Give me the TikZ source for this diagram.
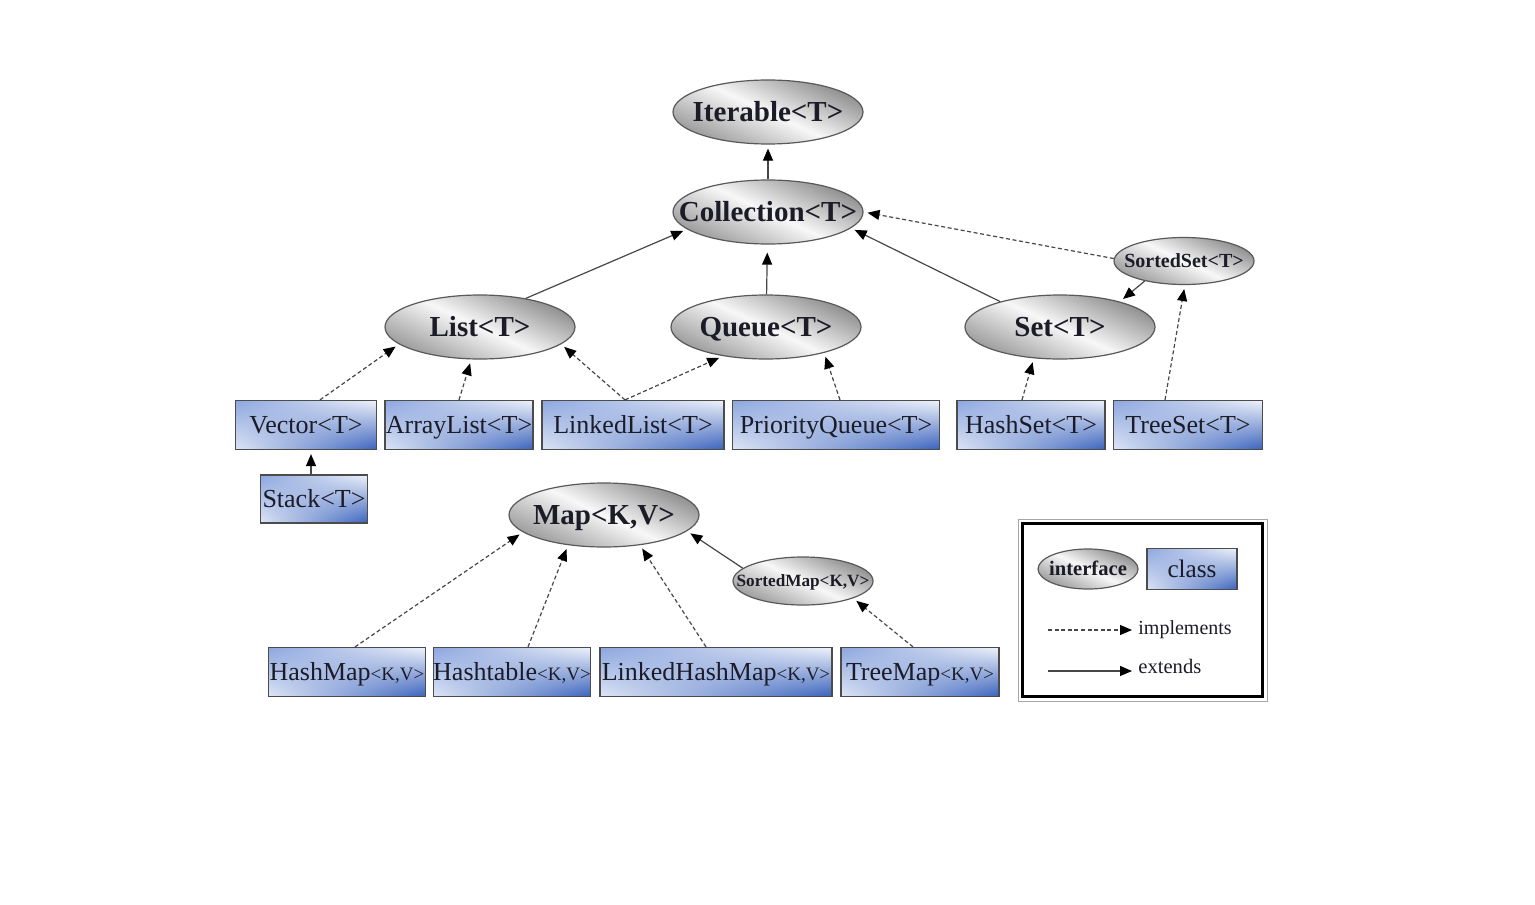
\documentclass[tikz,border=0pt]{standalone}
\usepackage{fontspec}
\setmainfont{Liberation Serif}
\usetikzlibrary{shapes.geometric,arrows.meta,calc,shadings}
\definecolor{bxUL}{RGB}{140,166,222}
\definecolor{bxUR}{RGB}{238,242,250}
\definecolor{bxLL}{RGB}{222,230,246}
\definecolor{bxLR}{RGB}{58,98,188}
\definecolor{inkc}{RGB}{28,28,40}
% text box of zero width, so the shape keeps its given size
\newcommand\zw[1]{\makebox[0pt]{#1}}
\newcommand\kv{{\fontsize{9.5}{10}\selectfont<K,V>}}
\begin{document}
\begin{tikzpicture}[x=0.5pt,y=-0.5pt,
  iface/.style={ellipse, draw=black!65, line width=0.6pt, inner sep=0pt,
    left color=black!45, right color=black!40, middle color=black!3,
    shading angle=-25, text=inkc},
  bigif/.style={iface, minimum width=95pt, minimum height=32pt,
    text height=10.9pt, text depth=1.4pt,
    font=\fontsize{14.5}{15}\selectfont\bfseries},
  smallif/.style={iface, minimum width=70pt, minimum height=23.5pt,
    text height=7.5pt, text depth=1pt},
  klass/.style={rectangle, draw=black!70, line width=0.6pt, inner sep=0pt,
    minimum height=24.5pt, upper left=bxUL, upper right=bxUR,
    lower left=bxLL, lower right=bxLR, text=inkc,
    text height=9.75pt, text depth=1.3pt,
    font=\fontsize{13}{14}\selectfont},
  ext/.style={draw=black!72, line width=0.6pt, shorten >=2pt,
    -{Triangle[length=6pt,width=5pt,black]}},
  impl/.style={ext, dash pattern=on 2pt off 1.3pt}
]
\useasboundingbox (0,0) rectangle (1535,904);

% interfaces
\node[bigif] (iter)  at (768,112) {\zw{Iterable<T>}};
\node[bigif] (coll)  at (768,212) {\zw{Collection<T>}};
\node[bigif] (list)  at (480,327) {\zw{List<T>}};
\node[bigif] (queue) at (766,327) {\zw{Queue<T>}};
\node[bigif] (set)   at (1060,327) {\zw{Set<T>}};
\node[smallif, font=\fontsize{10}{11}\selectfont\bfseries] (sset) at (1184,261) {\zw{SortedSet<T>}};
\node[bigif] (map)   at (604,515) {\zw{Map<K,V>}};
\node[smallif, minimum height=24pt, text height=6.5pt, text depth=0.9pt,
  font=\fontsize{8.6}{9}\selectfont\bfseries] (smap) at (803,581) {\zw{SortedMap<K,V>}};

% classes
\node[klass, minimum width=70.5pt] (vector) at (306,425) {\zw{Vector<T>}};
\node[klass, minimum width=74pt]   (alist)  at (459,425) {\zw{ArrayList<T>}};
\node[klass, minimum width=91pt]   (llist)  at (633,425) {\zw{LinkedList<T>}};
\node[klass, minimum width=103.5pt] (pqueue) at (836,425) {\zw{PriorityQueue<T>}};
\node[klass, minimum width=74pt]   (hset)   at (1031,425) {\zw{HashSet<T>}};
\node[klass, minimum width=74.5pt] (tset)   at (1188,425) {\zw{TreeSet<T>}};
\node[klass, minimum width=53.5pt, minimum height=24pt] (stack) at (314,499) {\zw{Stack<T>}};
\node[klass, minimum width=78.5pt] (hmap)   at (347,672) {\zw{HashMap\kv}};
\node[klass, minimum width=78.5pt] (htable) at (512,672) {\zw{Hashtable\kv}};
\node[klass, minimum width=116pt]  (lhmap)  at (716,672) {\zw{LinkedHashMap\kv}};
\node[klass, minimum width=79pt]   (tmap)   at (920,672) {\zw{TreeMap\kv}};

% collection hierarchy
\draw[ext]  (coll) -- (iter);
\draw[ext]  (list.32) -- (coll.192);
\draw[ext, shorten >=4pt]  (queue) -- (coll);
\draw[ext]  (set.157) -- (coll.349);
\draw[impl] (sset.178) -- (coll.east);
\draw[ext]  (sset.207) -- (set.23);
\draw[impl] ($(vector.north)+(14,0)$) -- (list.192);
\draw[impl] (alist.north) -- (list.255);
\draw[impl] ($(llist.north)+(-8,0)$) -- (list.348);
\draw[impl] ($(llist.north)+(-8,0)$) -- (queue.214);
\draw[impl] ($(pqueue.north)+(4,0)$) -- (queue.336);
\draw[impl] ($(hset.north)+(-9,0)$) -- (set.230);
\draw[impl] ($(tset.north)+(-23,0)$) -- (sset.272);
\draw[ext]  ($(stack.north)+(-3,0)$) -- ($(stack.north |- vector.south)+(-3,0)$);

% map hierarchy
\draw[impl] ($(hmap.north)+(8,0)$) -- (map.192);
\draw[impl] ($(htable.north)+(16,0)$) -- (map.220);
\draw[impl] ($(lhmap.north)+(-10,0)$) -- (map.320);
\draw[ext]  (smap.168) -- (map.349);
\draw[impl] ($(tmap.north)+(-7,0)$) -- (smap.341);

% legend
\node[draw=black!35, line width=0.5pt, minimum width=124.5pt, minimum height=91pt] (legout) at (1142.5,610) {};
\node[draw=black, line width=1.8pt, minimum width=120pt, minimum height=86.5pt] (legend) at (1142.5,610) {};
\node[iface, minimum width=50pt, minimum height=20pt, text height=7.7pt, text depth=1pt,
  font=\fontsize{10.3}{11}\selectfont\bfseries] (lif) at (1088,569) {\zw{interface}};
\node[klass, minimum width=45pt, minimum height=20.5pt, text height=9.4pt, text depth=1.2pt,
  font=\fontsize{12.6}{13}\selectfont] (lcl) at (1192,569) {\zw{class}};
\coordinate (ia) at (1048,630);
\coordinate (ib) at (1132,630);
\coordinate (ea) at (1048,671);
\coordinate (eb) at (1132,671);
\draw[impl, shorten >=0pt] (ia) -- (ib);
\draw[ext, shorten >=0pt] (ea) -- (eb);
\node[anchor=west, inner sep=0pt, text=inkc, font=\fontsize{10}{11}\selectfont] (limpl) at (1138,630) {implements};
\node[anchor=west, inner sep=0pt, text=inkc, font=\fontsize{10.3}{11}\selectfont] (lext) at (1138,666) {extends};
\end{tikzpicture}
\end{document}
